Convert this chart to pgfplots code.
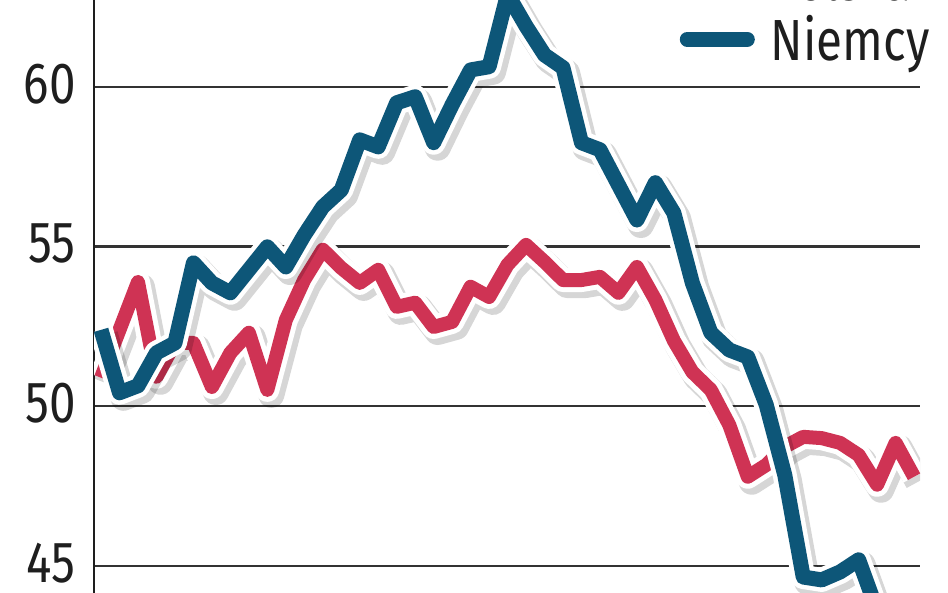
\documentclass[border=0pt]{standalone}
\usepackage{pgfplots}
\pgfplotsset{compat=1.18}
\usepackage{pgfplotstable}
\usepackage{fontspec}
\setmainfont[FakeStretch=0.82]{Fira Sans}
\definecolor{niemcy}{RGB}{13,86,120}
\definecolor{polska}{RGB}{207,51,84}
\definecolor{txt}{RGB}{30,30,30}

\pgfplotstableread{
x y
0 50.89
1 52.39
2 53.89
3 50.92
4 51.98
5 51.98
6 50.60
7 51.67
8 52.30
9 50.51
10 52.70
11 53.96
12 54.90
13 54.33
14 53.86
15 54.27
16 53.11
17 53.24
18 52.48
19 52.64
20 53.74
21 53.42
22 54.43
23 55.05
24 54.52
25 53.95
26 53.95
27 54.05
28 53.55
29 54.36
30 53.33
31 52.05
32 51.07
33 50.51
34 49.41
35 47.79
36 48.16
37 48.73
38 49.04
39 49.00
40 48.85
41 48.47
42 47.54
43 48.85
44 47.79
}\polskatab

\pgfplotstableread{
x y
0 52.39
1 50.42
2 50.64
3 51.67
4 51.98
5 54.49
6 53.86
7 53.55
8 54.27
9 54.99
10 54.36
11 55.36
12 56.24
13 56.77
14 58.34
15 58.12
16 59.50
17 59.69
18 58.25
19 59.44
20 60.53
21 60.63
22 62.90
23 61.90
24 61.00
25 60.60
26 58.25
27 58.03
28 56.93
29 55.83
30 57.00
31 56.05
32 53.86
33 52.30
34 51.76
35 51.54
36 50.04
37 47.85
38 44.65
39 44.56
40 44.81
41 45.19
42 43.60
}\niemcytab

\begin{document}
\begin{tikzpicture}
\useasboundingbox (0,0) rectangle (474pt,296.5pt);
\begin{axis}[
  at={(47pt,0pt)}, anchor=south west,
  scale only axis, width=413pt, height=296.5pt,
  xmin=-0.38, xmax=44.32, ymin=44.15, ymax=62.72,
  axis x line=none, axis y line=left,
  y axis line style={-, line width=1pt, color=txt},
  xtick=\empty, ytick={45,50,55,60},
  major tick length=0pt,
  ymajorgrids, grid style={line width=1.3pt, color=black!80},
  /pgf/number format/assume math mode=true,
  yticklabel style={font=\fontsize{29}{30}\selectfont, color=txt, inner sep=0pt, anchor=east, xshift=-9pt, yshift=1.5pt},
  legend style={at={(1.012,0.983)}, anchor=east, draw=none, fill=none, inner sep=0pt,
    font=\fontsize{29}{30}\selectfont, text=txt, row sep=6pt,
    nodes={inner sep=0pt}},
  legend cell align=left,
  legend image code/.code={\draw[#1, line cap=round] (0pt,0pt) -- (30pt,0pt);},
  every axis plot/.append style={line join=round},
]
\addlegendimage{line width=7.5pt, color=polska}
\addlegendentry{\hspace{8pt}Polska}
\addlegendimage{line width=7.5pt, color=niemcy}
\addlegendentry{\hspace{8pt}Niemcy}
% Polska
\addplot[forget plot, draw=black, opacity=0.16, line width=13pt, xshift=2pt, yshift=-2.5pt] table {\polskatab};
\addplot[forget plot, draw=white, line width=12pt] table {\polskatab};
\addplot[forget plot, draw=polska, line width=7pt] table {\polskatab};
% Niemcy
\addplot[forget plot, draw=black, opacity=0.16, line width=13pt, xshift=2pt, yshift=-2.5pt] table {\niemcytab};
\addplot[forget plot, draw=white, line width=12pt] table {\niemcytab};
\addplot[forget plot, draw=niemcy, line width=7.5pt] table {\niemcytab};
\end{axis}
\end{tikzpicture}
\end{document}
